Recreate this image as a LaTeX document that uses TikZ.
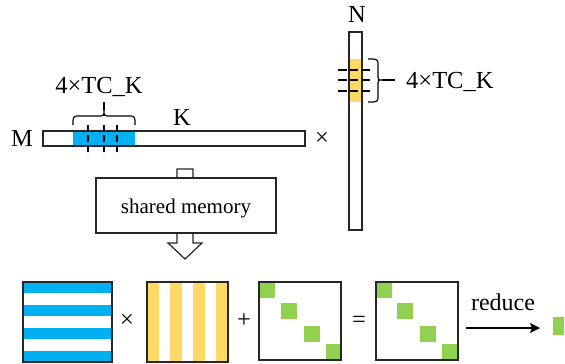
\documentclass[tikz,border=0pt]{standalone}
\usepackage{fontspec}
\setmainfont{Liberation Serif}
\usetikzlibrary{arrows.meta}
\definecolor{cblue}{HTML}{00B0F0}
\definecolor{cyel}{HTML}{FFD966}
\definecolor{cgreen}{HTML}{92D050}
\begin{document}
\begin{tikzpicture}[x=1pt,y=-1pt,
  box/.style={draw=black!85,line width=1.4pt},
  lab/.style={font=\fontsize{24.5}{28}\selectfont,inner sep=0pt,anchor=base},
  vdsh/.style={line width=1.2pt,dash pattern=on 6.5pt off 4pt},
  hdsh/.style={line width=1.2pt,dash pattern=on 8.5pt off 3pt},
  brc/.style={line width=1.2pt},
  gsq/.style={fill=cgreen}]
\useasboundingbox (0,0) rectangle (565,364);

% ---- M x K bar
\fill[cblue] (73,131) rectangle (135,146);
\draw[box] (43,131) rectangle (305,146);
\foreach \x in {88,104,117} \draw[vdsh] (\x,124.5) -- (\x,156);
\draw[brc] (73,125) .. controls (73,116) .. (80,116) -- (97,116) .. controls (104,116) .. (104,110)
  .. controls (104,116) .. (111,116) -- (128,116) .. controls (135,116) .. (135,125);
\draw[brc] (104,110) -- (104,102);
\node[lab] (lblA) at (99,93) {4×TC\_K};
\node[lab] (lblM) at (22,146) {M};
\node[lab] (lblK) at (182,125) {K};
\node[lab] (x1) at (322,145) {×};

% ---- N bar
\fill[cyel] (349,59) rectangle (362,102);
\draw[box] (349,32) rectangle (362,230);
\foreach \y in {70,80,91} \draw[hdsh] (338,\y) -- (370,\y);
\draw[brc] (368,59) .. controls (378,59) .. (378,66) -- (378,73) .. controls (378,80) .. (382,80)
  .. controls (378,80) .. (378,87) -- (378,95) .. controls (378,102) .. (368,102);
\draw[brc] (382,80) -- (395,80);
\node[lab,anchor=base west] (lblB) at (406,88) {4×TC\_K};
\node[lab] (lblN) at (357,23) {N};

% ---- hollow arrow and shared memory
\draw[box,line width=1.2pt,fill=white] (177,169) -- (193,169) -- (193,243) -- (202,243) -- (185,259)
  -- (168,243) -- (177,243) -- cycle;
\node[box,fill=white,minimum width=180pt,minimum height=55pt,inner sep=0pt] (smem) at (186,205.5) {};
\node[lab,font=\fontsize{21}{24}\selectfont] (smemt) at (186,213) {shared memory};

% ---- bottom row
% blue striped
\foreach \i in {0,2,4,6} \fill[cblue] (23,282+\i*11.43) rectangle (112,282+\i*11.43+11.43);
\draw[box] (23,282) rectangle (112,362);
\node[lab] (x2) at (127,327) {×};
% yellow striped
\foreach \i in {0,2,4,6} \fill[cyel] (147+\i*11.57,282) rectangle (147+\i*11.57+11.57,362);
\draw[box] (147,282) rectangle (228,362);
\node[lab] (plus) at (244,327) {+};
% green diag 1
\foreach \dx/\dy in {0/0,22/21,45/44,67/62} \fill[gsq] (259+\dx,282+\dy) rectangle (275+\dx,298+\dy);
\draw[box] (259,282) rectangle (341,360);
\node[lab] (eq) at (359,327) {=};
% green diag 2
\foreach \dx/\dy in {0/0,21/21,44/44,66/62} \fill[gsq] (376+\dx,282+\dy) rectangle (392+\dx,298+\dy);
\draw[box] (376,282) rectangle (458,360);
% reduce
\coordinate (r1) at (466,328);
\coordinate (r2) at (540,328);
\draw[line width=1.5pt,-{Stealth[length=10pt,width=10pt,inset=2pt]}] (r1) -- (r2);
\node[lab,font=\fontsize{24}{27}\selectfont] (red) at (503,310) {reduce};
\fill[gsq] (553,317) rectangle (564,335);
\end{tikzpicture}
\end{document}
